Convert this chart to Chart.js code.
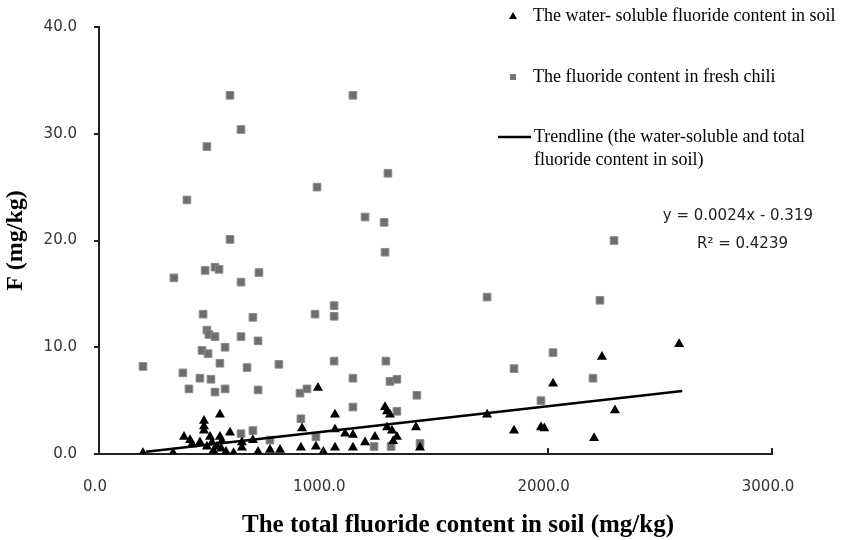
<!DOCTYPE html>
<html>
<head>
<meta charset="utf-8">
<script src="https://cdn.jsdelivr.net/npm/chart.js@4.4.0/dist/chart.umd.min.js"></script>
<style>
  html, body { margin: 0; padding: 0; background: #fff; }
  canvas { display: block; }
</style>
</head>
<body>
<canvas id="myChart" width="841" height="540"></canvas>
<script>
// water-soluble fluoride in soil vs total fluoride in soil (triangles)
var soilTotalWs = [196, 330, 379, 406, 415, 450, 468, 468, 468, 481,
  495, 504, 510, 526, 539, 539, 545, 548, 566, 584,
  600, 637, 637, 686, 709, 762, 807, 900, 905, 967,
  976, 1000, 1052, 1052, 1052, 1097, 1132, 1132, 1186, 1230,
  1275, 1284, 1297, 1284, 1306, 1328, 1311, 1413, 1431, 1730,
  1850, 1970, 1985, 2024, 2207, 2242, 2300, 2586];
var waterSoluble = [0.1, 0.1, 1.6, 1.3, 0.9, 1.1, 3.1, 2.6, 2.2, 0.7,
  1.6, 1.1, 0.3, 0.7, 3.7, 1.6, 0.5, 1.2, 0.2, 2.0,
  0.1, 1.1, 0.6, 1.3, 0.2, 0.4, 0.4, 0.6, 2.4, 0.7,
  6.2, 0.2, 3.7, 2.3, 0.6, 1.9, 1.8, 0.6, 1.1, 1.6,
  4.4, 4.0, 3.7, 2.5, 2.2, 1.6, 1.2, 2.5, 0.6, 3.7,
  2.2, 2.5, 2.4, 6.6, 1.5, 9.1, 4.1, 10.3];

// fluoride in fresh chili vs total fluoride in soil (squares)
var soilTotalChili = [584, 1132, 633, 481, 972, 392, 1186, 1271, 1288, 584,
  1275, 473, 517, 535, 334, 633, 713, 1048, 2296, 1730,
  2233, 464, 686, 963, 1048, 481, 490, 517, 633, 709,
  562, 459, 486, 539, 802, 660, 1048, 196, 374, 450,
  499, 1132, 401, 517, 562, 709, 896, 927, 1132, 900,
  686, 633, 762, 967, 2024, 1279, 1297, 1328, 1850, 2202,
  1417, 1328, 1970, 1226, 1302, 1431];
var chiliF = [33.6, 33.6, 30.4, 28.8, 25.0, 23.8, 22.2, 21.7, 26.3, 20.1,
  18.9, 17.2, 17.5, 17.3, 16.5, 16.1, 17.0, 13.9, 20.0, 14.7,
  14.4, 13.1, 12.8, 13.1, 12.9, 11.6, 11.2, 11.0, 11.0, 10.6,
  10.0, 9.7, 9.4, 8.5, 8.4, 8.1, 8.7, 8.2, 7.6, 7.1,
  7.0, 7.1, 6.1, 5.8, 6.1, 6.0, 5.7, 6.1, 4.4, 3.3,
  2.2, 1.9, 1.3, 1.6, 9.5, 8.7, 6.8, 7.0, 8.0, 7.1,
  5.5, 4.0, 5.0, 0.7, 0.7, 1.0];

// trendline end points
var trendX = [210, 2600];
var trendY = [0.2, 5.9];

var xTicks = [0, 1000, 2000, 3000];
var yTicks = [0, 10, 20, 30, 40];

var legendLabels = ['The water- soluble fluoride content in soil',
  'The fluoride content in fresh chili',
  'Trendline (the water-soluble and total', 'fluoride content in soil)'];
var equationText = 'y = 0.0024x - 0.319';
var r2Text = 'R\u00b2 = 0.4239';
var xTitle = 'The total fluoride content in soil (mg/kg)';
var yTitle = 'F (mg/kg)';

function toPoints(xs, ys) {
  var pts = [];
  for (var i = 0; i < xs.length; i++) pts.push({ x: xs[i], y: ys[i] });
  return pts;
}

var annotate = {
  id: 'annotate',
  afterDraw: function(chart) {
    var ctx = chart.ctx;
    var area = chart.chartArea;
    var xs = chart.scales.x;
    ctx.save();

    // x ticks point inward
    ctx.strokeStyle = '#222';
    ctx.lineWidth = 2;
    xTicks.slice(1).forEach(function(v) {
      var px = Math.round(xs.getPixelForValue(v));
      ctx.beginPath();
      ctx.moveTo(px, area.bottom);
      ctx.lineTo(px, area.bottom - 6);
      ctx.stroke();
    });

    // legend
    ctx.fillStyle = '#000';
    ctx.beginPath();
    ctx.moveTo(513, 12); ctx.lineTo(517, 19); ctx.lineTo(509, 19);
    ctx.closePath(); ctx.fill();
    ctx.fillStyle = '#777';
    ctx.fillRect(510, 74, 6, 6);
    ctx.strokeStyle = '#000';
    ctx.lineWidth = 2.5;
    ctx.beginPath(); ctx.moveTo(498, 137); ctx.lineTo(531, 137); ctx.stroke();

    ctx.fillStyle = '#000';
    ctx.font = '18px "Liberation Serif"';
    ctx.textBaseline = 'middle';
    ctx.textAlign = 'left';
    ctx.fillText(legendLabels[0], 533, 16);
    ctx.fillText(legendLabels[1], 533, 77);
    ctx.fillText(legendLabels[2], 534, 137);
    ctx.fillText(legendLabels[3], 534, 160);

    // equation
    ctx.font = '15px "DejaVu Sans"';
    ctx.fillStyle = '#222';
    ctx.textAlign = 'right';
    ctx.fillText(equationText, 813, 216);
    ctx.fillText(r2Text, 788, 244);

    // x title
    ctx.font = 'bold 25px "Liberation Serif"';
    ctx.fillStyle = '#000';
    ctx.textAlign = 'center';
    ctx.fillText(xTitle, 458, 526);
    ctx.restore();
  }
};

var ctx = document.getElementById('myChart');

var myChart = new Chart(ctx, {
  type: 'scatter',
  data: {
    datasets: [
      {
        type: 'line',
        label: 'Trendline',
        data: toPoints(trendX, trendY),
        borderColor: '#000',
        borderWidth: 2.5,
        pointRadius: 0,
        fill: false,
        order: 0
      },
      {
        label: legendLabels[0],
        data: toPoints(soilTotalWs, waterSoluble),
        pointStyle: 'triangle',
        pointRadius: 5.8,
        backgroundColor: '#000',
        borderColor: '#000',
        borderWidth: 0,
        order: 1
      },
      {
        label: legendLabels[1],
        data: toPoints(soilTotalChili, chiliF),
        pointStyle: 'rect',
        pointRadius: 5.4,
        backgroundColor: '#6e6e6e',
        borderColor: '#8a8a8a',
        borderWidth: 1,
        order: 2
      }
    ]
  },
  options: {
    responsive: false,
    animation: false,
    layout: { padding: { top: 27, right: 69, left: 0, bottom: 0 } },
    plugins: {
      legend: { display: false },
      tooltip: { enabled: false }
    },
    scales: {
      x: {
        type: 'linear',
        min: 0,
        max: 3000,
        afterFit: function(scale) { scale.height = 86; },
        afterBuildTicks: function(scale) {
          scale.ticks = xTicks.map(function(v) { return { value: v }; });
        },
        grid: { display: false, drawTicks: false, tickLength: 0 },
        border: { display: true, color: '#222', width: 2 },
        ticks: {
          padding: 24,
          labelOffset: -4,
          maxRotation: 0,
          color: '#333',
          font: { family: 'DejaVu Sans', size: 15 },
          callback: function(v) { return Number(v).toFixed(1); }
        }
      },
      y: {
        min: 0,
        max: 40,
        afterFit: function(scale) { scale.width = 99; },
        afterBuildTicks: function(scale) {
          scale.ticks = yTicks.map(function(v) { return { value: v }; });
        },
        grid: { display: true, drawOnChartArea: false, drawTicks: true, tickLength: 5, color: '#222', lineWidth: 2 },
        border: { display: true, color: '#222', width: 2 },
        ticks: {
          padding: 17,
          color: '#333',
          font: { family: 'DejaVu Sans', size: 15 },
          callback: function(v) { return Number(v).toFixed(1); }
        },
        title: {
          display: true,
          text: yTitle,
          color: '#000',
          font: { family: 'Liberation Serif', size: 24, weight: 'bold' },
          padding: { top: 1, bottom: 0 }
        }
      }
    }
  },
  plugins: [annotate]
});
</script>
</body>
</html>
